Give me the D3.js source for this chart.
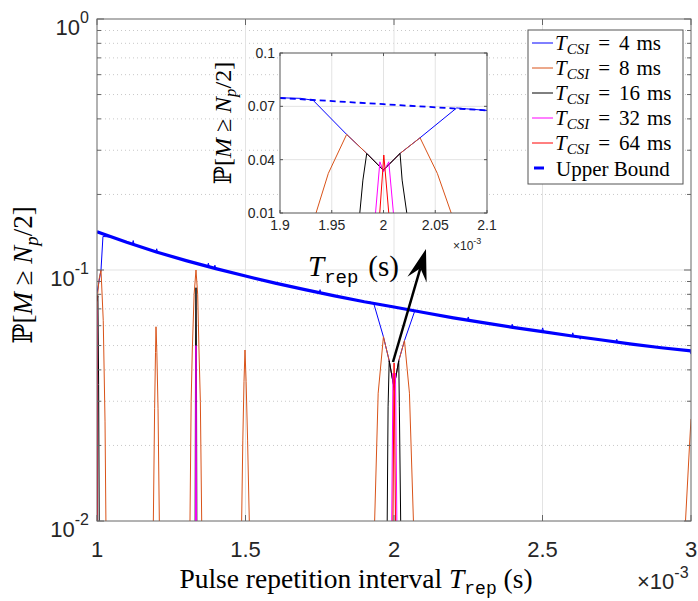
<!DOCTYPE html>
<html>
<head>
<meta charset="utf-8">
<script src="https://cdn.jsdelivr.net/npm/d3@7"></script>
<style>
body { margin: 0; background: #fff; }
text { font-family: "Liberation Sans", Arial, sans-serif; }
.tex { font-family: "Liberation Serif", "DejaVu Serif", serif; }
.tt { font-family: "Liberation Mono", "DejaVu Sans Mono", monospace; }
</style>
</head>
<body>
<div id="main"></div>
<script>
// T_rep values are in ms (axis shows x10^-3 s)
var boundX = [1.0, 1.1, 1.2, 1.3, 1.4, 1.5, 1.6, 1.7, 1.8, 1.9, 2.0,
              2.1, 2.2, 2.3, 2.4, 2.5, 2.6, 2.7, 2.8, 2.9, 3.0];
var boundY = [0.142, 0.129, 0.118, 0.109, 0.1013, 0.0946, 0.0887, 0.0835, 0.0789, 0.0747, 0.0712,
              0.0677, 0.0645, 0.0617, 0.0591, 0.0568, 0.0546, 0.0526, 0.0507, 0.049, 0.0476];

var csi4 = [[1.0, 0.081], [1.0135, 0.1], [1.02, 0.136], [1.05, 0.1352], [1.1, 0.129],
    [1.119, 0.1268], [1.122, 0.131], [1.125, 0.1262], [1.198, 0.1182], [1.201, 0.1215],
    [1.204, 0.1176], [1.3, 0.109], [1.372, 0.1035], [1.375, 0.1065], [1.378, 0.1029],
    [1.394, 0.1018], [1.397, 0.1045], [1.4, 0.1013], [1.5, 0.0946], [1.6, 0.0887],
    [1.7, 0.0835], [1.748, 0.0812], [1.751, 0.0835], [1.754, 0.081], [1.8, 0.0789],
    [1.9, 0.0748], [1.92, 0.0745], [1.932, 0.0734], [1.9644, 0.0542], [1.9838, 0.0435],
    [1.9998, 0.0341], [2.016, 0.0435], [2.0353, 0.0523], [2.0707, 0.0691], [2.08, 0.0686],
    [2.1, 0.0677], [2.2, 0.0645], [2.247, 0.0632], [2.25, 0.065], [2.253, 0.063],
    [2.3, 0.0617], [2.395, 0.0592], [2.398, 0.0608], [2.401, 0.059], [2.497, 0.0569],
    [2.5005, 0.0588], [2.504, 0.0567], [2.599, 0.0546], [2.602, 0.0562], [2.605, 0.0545],
    [2.624, 0.0541], [2.627, 0.053], [2.63, 0.054], [2.7, 0.0526], [2.747, 0.0517],
    [2.75, 0.053], [2.753, 0.0516], [2.8, 0.0507], [2.9, 0.049], [2.996, 0.0477], [3.0, 0.0462]];

var csi8 = [[1.0, 0.075], [1.007, 0.092], [1.0135, 0.1], [1.021, 0.063], [1.027, 0.025], [1.03, 0.01], null,
    [1.1897, 0.01], [1.194, 0.028], [1.197, 0.047], [1.1987, 0.0594], [1.2015, 0.047], [1.2055, 0.028], [1.2099, 0.01], null,
    [1.3131, 0.01], [1.317, 0.03], [1.3209, 0.048], [1.327, 0.08], [1.3333, 0.1], [1.339, 0.08], [1.3434, 0.048], [1.348, 0.03], [1.3525, 0.01], null,
    [1.487, 0.01], [1.491, 0.021], [1.495, 0.036], [1.4983, 0.048], [1.502, 0.036], [1.507, 0.021], [1.5128, 0.01], null,
    [1.9348, 0.01], [1.9467, 0.0323], [1.9644, 0.0542], [1.9838, 0.0435], [1.9998, 0.0341], [2.016, 0.0435], [2.0353, 0.0523], [2.052, 0.0323], [2.0654, 0.01], null,
    [2.9815, 0.01], [2.995, 0.02], [3.0, 0.0255]];

var csi16 = [[1.0, 0.075], [1.003, 0.079], [1.0055, 0.035], [1.0075, 0.01], null,
    [1.3305, 0.01], [1.3318, 0.045], [1.3333, 0.085], [1.3348, 0.045], [1.3361, 0.01], null,
    [1.9771, 0.01], [1.9801, 0.0285], [1.9838, 0.0435], [1.9998, 0.0341], [2.016, 0.0435], [2.018, 0.0285], [2.0225, 0.01]];

var csi32 = [[1.0, 0.07], [1.0018, 0.01], null,
    [1.3318, 0.01], [1.3328, 0.03], [1.3333, 0.05], [1.3338, 0.03], [1.3348, 0.01], null,
    [1.9923, 0.01], [1.9965, 0.0388], [2.0, 0.0332], [2.0051, 0.0388], [2.0096, 0.01]];

var csi64 = [[1.0, 0.079], [1.0012, 0.01], null,
    [1.9964, 0.01], [2.0003, 0.0426], [2.0051, 0.01]];

var csiMs = [4, 8, 16, 32, 64];
var csiSeries = [csi4, csi8, csi16, csi32, csi64];
var csiColors = ["#0000ff", "#d95319", "#000000", "#ff00ff", "#ff0000"];

var xTicks = [1, 1.5, 2, 2.5, 3];
var yTicks = [0.01, 0.1, 1];
var yTickExp = ["-2", "-1", "0"];
var insetXTicks = [1.9, 1.95, 2, 2.05, 2.1];
var insetYTicks = [0.01, 0.04, 0.07, 0.1];

var ctx = { w: 698, h: 601, left: 97, right: 691, top: 19, bottom: 521 };
var ins = { left: 280, right: 487, top: 53, bottom: 213 };

var svg = d3.select("#main").append("svg").attr("width", ctx.w).attr("height", ctx.h);

var x = d3.scaleLinear().domain([1, 3]).range([ctx.left, ctx.right]);
var y = d3.scaleLog().domain([0.01, 1]).range([ctx.bottom, ctx.top]);

var boundPts = boundX.map(function (v, i) { return [v, boundY[i]]; });

var minorVals = [];
[0.01, 0.1].forEach(function (d) {
    for (var k = 2; k <= 9; k++) minorVals.push(d * k);
});

var defs = svg.append("defs");
defs.append("clipPath").attr("id", "clipMain").append("rect")
    .attr("x", ctx.left).attr("y", ctx.top)
    .attr("width", ctx.right - ctx.left).attr("height", ctx.bottom - ctx.top);
defs.append("clipPath").attr("id", "clipInset").append("rect")
    .attr("x", ins.left).attr("y", ins.top)
    .attr("width", ins.right - ins.left).attr("height", ins.bottom - ins.top);

// grid
var grid = svg.append("g");
grid.selectAll(".minor").data(minorVals).enter().append("line")
    .attr("x1", ctx.left).attr("x2", ctx.right)
    .attr("y1", function (d) { return y(d); }).attr("y2", function (d) { return y(d); })
    .attr("stroke", "#c8c8c8").attr("stroke-width", 1).attr("stroke-dasharray", "1,3");
grid.selectAll(".majY").data([0.1]).enter().append("line")
    .attr("x1", ctx.left).attr("x2", ctx.right)
    .attr("y1", function (d) { return y(d); }).attr("y2", function (d) { return y(d); })
    .attr("stroke", "#e3e3e3").attr("stroke-width", 1);
grid.selectAll(".majX").data(xTicks.slice(1, -1)).enter().append("line")
    .attr("x1", function (d) { return x(d); }).attr("x2", function (d) { return x(d); })
    .attr("y1", ctx.top).attr("y2", ctx.bottom)
    .attr("stroke", "#e3e3e3").attr("stroke-width", 1);

var line = d3.line()
    .defined(function (d) { return d != null; })
    .x(function (d) { return x(d[0]); })
    .y(function (d) { return y(d[1]); });

var plot = svg.append("g").attr("clip-path", "url(#clipMain)");
csiSeries.forEach(function (s, i) {
    plot.append("path").datum(s).attr("d", line)
        .attr("fill", "none").attr("stroke", csiColors[i]).attr("stroke-width", 1);
});
plot.append("path").datum(boundPts).attr("d", line)
    .attr("fill", "none").attr("stroke", "#0000ff").attr("stroke-width", 3.2);

// axes box and ticks
var ax = svg.append("g").attr("stroke", "#666").attr("stroke-width", 1);
ax.append("rect").attr("x", ctx.left).attr("y", ctx.top)
    .attr("width", ctx.right - ctx.left).attr("height", ctx.bottom - ctx.top).attr("fill", "none");
xTicks.forEach(function (t) {
    ax.append("line").attr("x1", x(t)).attr("x2", x(t)).attr("y1", ctx.bottom).attr("y2", ctx.bottom - 6);
    ax.append("line").attr("x1", x(t)).attr("x2", x(t)).attr("y1", ctx.top).attr("y2", ctx.top + 6);
});
yTicks.concat(minorVals).forEach(function (t) {
    var len = yTicks.indexOf(t) >= 0 ? 7 : 4;
    ax.append("line").attr("x1", ctx.left).attr("x2", ctx.left + len).attr("y1", y(t)).attr("y2", y(t));
    ax.append("line").attr("x1", ctx.right).attr("x2", ctx.right - len).attr("y1", y(t)).attr("y2", y(t));
});

// tick labels
svg.append("g").selectAll("text").data(xTicks).enter().append("text")
    .attr("x", function (d) { return x(d); }).attr("y", ctx.bottom + 36)
    .attr("text-anchor", "middle").attr("font-size", 22).attr("fill", "#262626")
    .text(function (d) { return d; });
var yl = svg.append("g").selectAll("text").data(yTicks).enter().append("text")
    .attr("x", 89).attr("y", function (d) { return y(d) + 16; })
    .attr("text-anchor", "end").attr("font-size", 22).attr("fill", "#262626");
yl.append("tspan").text("10");
yl.append("tspan").attr("dy", -12).attr("font-size", 16)
    .text(function (d, i) { return yTickExp[i]; });

var xe = svg.append("text").attr("x", 637).attr("y", 589).attr("font-size", 22).attr("fill", "#262626");
xe.append("tspan").text("\u00d710");
xe.append("tspan").attr("dy", -11).attr("font-size", 16).text("-3");

// axis titles
var xt = svg.append("text").attr("class", "tex").attr("x", 356).attr("y", 588)
    .attr("text-anchor", "middle").attr("font-size", 27.5).attr("fill", "#000");
xt.append("tspan").text("Pulse repetition interval ");
xt.append("tspan").attr("font-style", "italic").text("T");
xt.append("tspan").attr("class", "tt").attr("dy", 6).attr("font-size", 18).text("rep");
xt.append("tspan").attr("dy", -6).text(" (s)");

function probLabel(sel, size) {
    sel.append("tspan").text("\u2119[");
    sel.append("tspan").attr("font-style", "italic").text("M");
    sel.append("tspan").text(" \u2265 ");
    sel.append("tspan").attr("font-style", "italic").text("N");
    sel.append("tspan").attr("font-style", "italic").attr("font-size", size * 0.7).attr("dy", size * 0.22).text("p");
    sel.append("tspan").attr("dy", -size * 0.22).text("/2]");
}
var ytl = svg.append("text").attr("class", "tex")
    .attr("transform", "translate(32,275) rotate(-90)")
    .attr("text-anchor", "middle").attr("font-size", 27).attr("fill", "#000");
probLabel(ytl, 27);

// inset
var xi = d3.scaleLinear().domain([1.9, 2.1]).range([ins.left, ins.right]);
var yi = d3.scaleLinear().domain([0.01, 0.1]).range([ins.bottom, ins.top]);
var inset = svg.append("g");
inset.append("rect").attr("x", ins.left).attr("y", ins.top)
    .attr("width", ins.right - ins.left).attr("height", ins.bottom - ins.top).attr("fill", "#fff");
inset.selectAll(".gx").data(insetXTicks.slice(1, -1)).enter().append("line")
    .attr("x1", function (d) { return xi(d); }).attr("x2", function (d) { return xi(d); })
    .attr("y1", ins.top).attr("y2", ins.bottom).attr("stroke", "#e3e3e3");
inset.selectAll(".gy").data(insetYTicks.slice(1, -1)).enter().append("line")
    .attr("y1", function (d) { return yi(d); }).attr("y2", function (d) { return yi(d); })
    .attr("x1", ins.left).attr("x2", ins.right).attr("stroke", "#e3e3e3");

var lineI = d3.line()
    .defined(function (d) { return d != null; })
    .x(function (d) { return xi(d[0]); })
    .y(function (d) { return yi(d[1]); });
var iplot = inset.append("g").attr("clip-path", "url(#clipInset)");
iplot.append("path").datum(boundPts).attr("d", lineI)
    .attr("fill", "none").attr("stroke", "#0000ff").attr("stroke-width", 1.8).attr("stroke-dasharray", "6,4");
csiSeries.forEach(function (s, i) {
    iplot.append("path").datum(s).attr("d", lineI)
        .attr("fill", "none").attr("stroke", csiColors[i]).attr("stroke-width", 1);
});

var iax = inset.append("g").attr("stroke", "#555");
iax.append("rect").attr("x", ins.left).attr("y", ins.top)
    .attr("width", ins.right - ins.left).attr("height", ins.bottom - ins.top).attr("fill", "none");
insetXTicks.forEach(function (t) {
    iax.append("line").attr("x1", xi(t)).attr("x2", xi(t)).attr("y1", ins.bottom).attr("y2", ins.bottom - 3);
    iax.append("line").attr("x1", xi(t)).attr("x2", xi(t)).attr("y1", ins.top).attr("y2", ins.top + 3);
});
insetYTicks.forEach(function (t) {
    iax.append("line").attr("x1", ins.left).attr("x2", ins.left + 3).attr("y1", yi(t)).attr("y2", yi(t));
    iax.append("line").attr("x1", ins.right).attr("x2", ins.right - 3).attr("y1", yi(t)).attr("y2", yi(t));
});
inset.selectAll(".xl").data(insetXTicks).enter().append("text")
    .attr("x", function (d) { return xi(d); }).attr("y", ins.bottom + 17)
    .attr("text-anchor", "middle").attr("font-size", 14).attr("fill", "#262626")
    .text(function (d) { return d; });
inset.selectAll(".yl").data(insetYTicks).enter().append("text")
    .attr("x", ins.left - 5).attr("y", function (d) { return yi(d) + 5; })
    .attr("text-anchor", "end").attr("font-size", 14).attr("fill", "#262626")
    .text(function (d) { return d; });
var ie = inset.append("text").attr("x", 453).attr("y", 250).attr("font-size", 12).attr("fill", "#262626");
ie.append("tspan").text("\u00d710");
ie.append("tspan").attr("dy", -6).attr("font-size", 9).text("-3");
var iyl = inset.append("text").attr("class", "tex")
    .attr("transform", "translate(231,123) rotate(-90)")
    .attr("text-anchor", "middle").attr("font-size", 24).attr("fill", "#000");
probLabel(iyl, 24);

// annotation arrow
var arrowFrom = [1.9966, 0.043], arrowTo = [2.1077, 0.1213];
var p0 = [x(arrowFrom[0]), y(arrowFrom[1])], p1 = [x(arrowTo[0]), y(arrowTo[1])];
var dx = p1[0] - p0[0], dy = p1[1] - p0[1], len = Math.sqrt(dx * dx + dy * dy);
var ux = dx / len, uy = dy / len, px = -uy, py = ux;
var hl = 32, hw = 10, notch = 20;
svg.append("line").attr("x1", p0[0]).attr("y1", p0[1])
    .attr("x2", p1[0] - ux * notch).attr("y2", p1[1] - uy * notch)
    .attr("stroke", "#000").attr("stroke-width", 2.5);
svg.append("path").attr("fill", "#000").attr("d",
    "M" + p1[0] + "," + p1[1] +
    "L" + (p1[0] - ux * hl + px * hw) + "," + (p1[1] - uy * hl + py * hw) +
    "L" + (p1[0] - ux * notch) + "," + (p1[1] - uy * notch) +
    "L" + (p1[0] - ux * hl - px * hw) + "," + (p1[1] - uy * hl - py * hw) + "Z");
var at = svg.append("text").attr("class", "tex").attr("x", 308).attr("y", 276)
    .attr("font-size", 29).attr("fill", "#000");
at.append("tspan").attr("font-style", "italic").text("T");
at.append("tspan").attr("class", "tt").attr("dy", 7).attr("font-size", 19).text("rep");
at.append("tspan").attr("dy", -7).attr("dx", 10).text("(s)");

// legend
var lg = svg.append("g");
lg.append("rect").attr("x", 528).attr("y", 30).attr("width", 155).attr("height", 154)
    .attr("fill", "#fff").attr("stroke", "#555");
csiMs.forEach(function (ms, i) {
    var yy = 43 + i * 25;
    lg.append("line").attr("x1", 532).attr("x2", 553).attr("y1", yy).attr("y2", yy)
        .attr("stroke", csiColors[i]).attr("stroke-width", 1);
    var t = lg.append("text").attr("class", "tex").attr("x", 555).attr("y", yy + 7)
        .attr("font-size", 21).attr("fill", "#000");
    t.append("tspan").attr("font-style", "italic").text("T");
    t.append("tspan").attr("font-style", "italic").attr("dy", 4).attr("font-size", 15).text("CSI");
    t.append("tspan").attr("dy", -4).attr("dx", 9).text("=");
    t.append("tspan").attr("dx", 9).text(ms);
    t.append("tspan").attr("dx", 7).text("ms");
});
lg.append("line").attr("x1", 534).attr("x2", 544).attr("y1", 168).attr("y2", 168)
    .attr("stroke", "#0000ff").attr("stroke-width", 3);
lg.append("text").attr("class", "tex").attr("x", 556).attr("y", 176)
    .attr("font-size", 21).attr("fill", "#000").text("Upper Bound");
</script>
</body>
</html>
